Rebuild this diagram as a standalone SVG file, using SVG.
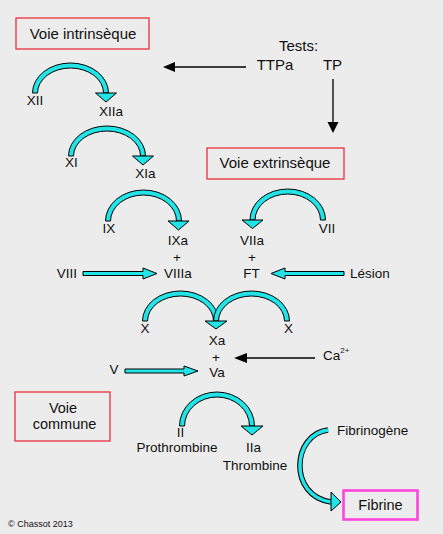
<svg xmlns="http://www.w3.org/2000/svg" width="443" height="534" viewBox="0 0 443 534">
<style>
text{font-family:"Liberation Sans",Arial,sans-serif;fill:#111;}
.l{font-size:13.5px;text-anchor:middle;}
.ls{font-size:13.5px;}
.b{font-size:15px;text-anchor:middle;}
.box{fill:none;stroke:#e8303a;stroke-width:1.3;}
.cy{fill:#22e3e6;stroke:#000;stroke-width:1;stroke-linejoin:miter;}
.bk{fill:none;stroke:#000;stroke-width:1.3;}
.bh{fill:#000;}
</style>
<rect x="0" y="0" width="443" height="534" fill="#ececec"/>

<g id="connectors">
  <!-- test arrows -->
  <line class="bk" x1="246" y1="67" x2="174" y2="67"/>
  <polygon class="bh" points="163,67 175,62 175,72"/>
  <line class="bk" x1="333" y1="79" x2="333" y2="123"/>
  <polygon class="bh" points="333,133 327.5,122 338.5,122"/>
  <!-- Ca arrow -->
  <line class="bk" x1="315" y1="358" x2="246" y2="358"/>
  <polygon class="bh" points="234,358 247,353 247,363"/>

  <!-- XII -> XIIa -->
  <path class="cy" d="M32.5,93 A38,30 0 0 1 108.5,93 L103.5,93 A33,25 0 0 0 37.5,93 Z"/>
  <polygon class="cy" points="95.5,93 116.5,93 106,102"/>
  <!-- XI -> XIa -->
  <path class="cy" d="M68.5,156 A38.5,30 0 0 1 145.5,156 L140.5,156 A33.5,25 0 0 0 73.5,156 Z"/>
  <polygon class="cy" points="132.5,156 153.5,156 143,165"/>
  <!-- IX -> IXa -->
  <path class="cy" d="M105.5,221 A38,31 0 0 1 181.5,221 L176.5,221 A33,26 0 0 0 110.5,221 Z"/>
  <polygon class="cy" points="168,221 189,221 178.5,230"/>
  <!-- VII -> VIIa -->
  <path class="cy" d="M250,220 A37.75,31 0 0 1 325.5,220 L320.5,220 A32.75,26 0 0 0 255,220 Z"/>
  <polygon class="cy" points="242,220 263,220 252.5,228.5"/>
  <!-- X -> Xa (left) -->
  <path class="cy" d="M142.5,321 A38,30 0 0 1 218.5,321 L213.5,321 A33,25 0 0 0 147.5,321 Z"/>
  <!-- X -> Xa (right) -->
  <path class="cy" d="M213.5,321 A38,30 0 0 1 289.5,321 L284.5,321 A33,25 0 0 0 218.5,321 Z"/>
  <polygon class="cy" points="205,321 227,321 216,329"/>
  <!-- II -> IIa -->
  <path class="cy" d="M179.5,426 A37.5,34 0 0 1 254.5,426 L249.5,426 A32.5,29 0 0 0 184.5,426 Z"/>
  <polygon class="cy" points="241,426 263,426 252,435"/>
  <!-- Fibrinogene -> Fibrine -->
  <path d="M328,430 C292,434 288,496 331,502" fill="none" stroke="#000" stroke-width="5.5"/>
  <path d="M328.5,430 C292,434 288,496 331,502" fill="none" stroke="#22e3e6" stroke-width="3.5"/>
  <polygon class="cy" points="331,492 341,502 331,511"/>

  <!-- straight cyan arrows -->
  <polygon class="cy" points="83,271.5 143,271.5 143,268 157,273.5 143,279 143,275.5 83,275.5"/>
  <polygon class="cy" points="344,271.5 285,271.5 285,268 271,273.5 285,279 285,275.5 344,275.5"/>
  <polygon class="cy" points="125,369 184,369 184,366 198,371 184,376 184,373 125,373"/>
</g>

<g id="voie-intrinseque">
  <rect class="box" x="16" y="18" width="133" height="31"/>
  <text class="b" x="83" y="39">Voie intrinsèque</text>
</g>
<g id="tests">
  <text class="b" x="298.5" y="51">Tests:</text>
</g>
<g id="ttpa"><text class="b" x="275" y="70">TTPa</text></g>
<g id="tp"><text class="b" x="332.5" y="70">TP</text></g>
<g id="voie-extrinseque">
  <rect class="box" x="207" y="148" width="137" height="31"/>
  <text class="b" x="275" y="168">Voie extrinsèque</text>
</g>
<g id="XII"><text class="l" x="35" y="105">XII</text></g>
<g id="XIIa"><text class="l" x="111" y="116">XIIa</text></g>
<g id="XI"><text class="l" x="71.5" y="167">XI</text></g>
<g id="XIa"><text class="l" x="145.5" y="178">XIa</text></g>
<g id="IX"><text class="l" x="109" y="233">IX</text></g>
<g id="IXa-VIIIa">
  <text class="l" x="178" y="245">IXa</text>
  <text class="l" x="177" y="262">+</text>
  <text class="l" x="178" y="278">VIIIa</text>
</g>
<g id="VIII"><text class="l" x="67" y="278">VIII</text></g>
<g id="VII"><text class="l" x="327" y="233">VII</text></g>
<g id="VIIa-FT">
  <text class="l" x="252" y="245">VIIa</text>
  <text class="l" x="252" y="262">+</text>
  <text class="l" x="251.5" y="278">FT</text>
</g>
<g id="lesion"><text class="ls" x="350" y="278">Lésion</text></g>
<g id="X-left"><text class="l" x="145" y="333">X</text></g>
<g id="X-right"><text class="l" x="288.5" y="333">X</text></g>
<g id="Xa-Va">
  <text class="l" x="217" y="345">Xa</text>
  <text class="l" x="216" y="362">+</text>
  <text class="l" x="217" y="377">Va</text>
</g>
<g id="V"><text class="l" x="114" y="374">V</text></g>
<g id="Ca"><text class="ls" x="323" y="360">Ca<tspan font-size="8" dy="-7">2+</tspan></text></g>
<g id="voie-commune">
  <rect class="box" x="15" y="392" width="95" height="49"/>
  <text class="b" x="63" y="412.5" style="font-size:14.5px">Voie</text>
  <text class="b" x="64.5" y="429" style="font-size:14.5px">commune</text>
</g>
<g id="II">
  <text class="l" x="180.5" y="437">II</text>
  <text class="l" x="177" y="452">Prothrombine</text>
</g>
<g id="IIa">
  <text class="l" x="253.5" y="452">IIa</text>
  <text class="l" x="255" y="470">Thrombine</text>
</g>
<g id="fibrinogene"><text class="ls" x="337" y="435">Fibrinogène</text></g>
<g id="fibrine">
  <rect x="343.5" y="490.5" width="74" height="29" fill="none" stroke="#ff44dd" stroke-width="2.6"/>
  <text class="b" x="380.5" y="510" style="font-size:14.5px">Fibrine</text>
</g>
<g id="copyright"><text x="8" y="527" style="font-size:9px">© Chassot 2013</text></g>
</svg>
